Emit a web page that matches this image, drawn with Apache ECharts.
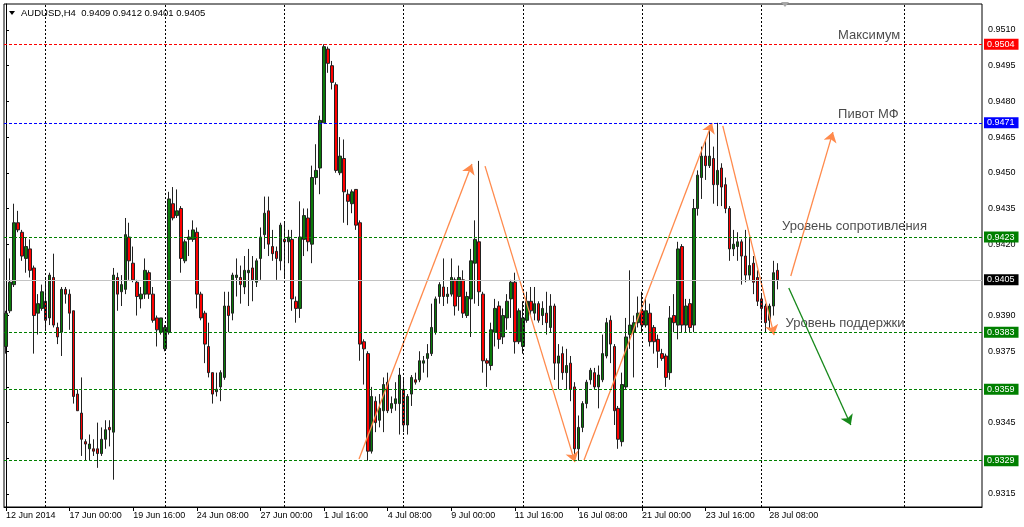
<!DOCTYPE html>
<html><head><meta charset="utf-8">
<script src="https://cdn.jsdelivr.net/npm/echarts@6/dist/echarts.min.js"></script>
<style>html,body{margin:0;padding:0;background:#fff}#c{width:1024px;height:527px}</style>
</head><body><div id="c"></div>
<script>
// ---- data (AUDUSD H4, 12 Jun 2014 08:00 .. 28 Jul 2014 16:00) ----
const symbolName = 'AUDUSD,H4';
const open = [
0.9377,0.9392,0.9403,0.9429,0.9425,0.9414,0.9418,0.9410,0.9391,0.9393,
0.9396,0.9389,0.9406,0.9385,0.9383,0.9401,0.9399,0.9392,0.9357,0.9349,
0.9337,0.9334,0.9334,0.9334,0.9332,0.9338,0.9343,0.9341,0.9406,0.9400,
0.9401,0.9423,0.9412,0.9404,0.9397,0.9399,0.9408,0.9399,0.9389,0.9383,
0.9376,0.9383,0.9437,0.9432,0.9435,0.9413,0.9422,0.9422,0.9425,0.9399,
0.9391,0.9377,0.9366,0.9358,0.9360,0.9364,0.9394,0.9391,0.9406,0.9406,
0.9402,0.9408,0.9410,0.9404,0.9414,0.9424,0.9434,0.9419,0.9417,0.9413,
0.9422,0.9421,0.9422,0.9396,0.9393,0.9422,0.9431,0.9420,0.9448,0.9452,
0.9471,0.9502,0.9495,0.9487,0.9450,0.9456,0.9441,0.9437,0.9443,0.9429,
0.9379,0.9374,0.9333,0.9354,0.9346,0.9350,0.9362,0.9351,0.9353,0.9353,
0.9359,0.9344,0.9357,0.9363,0.9363,0.9370,0.9372,0.9374,0.9383,0.9398,
0.9402,0.9398,0.9399,0.9405,0.9398,0.9405,0.9390,0.9397,0.9412,0.9421,
0.9399,0.9371,0.9369,0.9383,0.9394,0.9381,0.9389,0.9397,0.9404,0.9379,
0.9377,0.9388,0.9396,0.9391,0.9395,0.9390,0.9391,0.9385,0.9394,0.9370,
0.9374,0.9366,0.9370,0.9360,0.9334,0.9343,0.9353,0.9363,0.9366,0.9360,
0.9363,0.9373,0.9388,0.9377,0.9351,0.9337,0.9360,0.9382,0.9383,0.9387,
0.9392,0.9386,0.9391,0.9385,0.9380,0.9374,0.9373,0.9366,0.9390,0.9386,
0.9419,0.9386,0.9395,0.9386,0.9435,0.9448,0.9457,0.9453,0.9456,0.9445,
0.9452,0.9445,0.9435,0.9418,0.9419,0.9421,0.9415,0.9407,0.9412,0.9406,
0.9397,0.9394,0.9388,0.9394,0.9409];
const high = [
0.9392,0.9414,0.9437,0.9434,0.9426,0.9423,0.9422,0.9411,0.9399,0.9403,
0.9406,0.9408,0.9416,0.9387,0.9402,0.9402,0.9401,0.9392,0.9359,0.9364,
0.9338,0.9340,0.9338,0.9345,0.9343,0.9346,0.9346,0.9410,0.9408,0.9407,
0.9431,0.9429,0.9419,0.9405,0.9402,0.9414,0.9409,0.9402,0.9390,0.9389,
0.9386,0.9442,0.9444,0.9443,0.9436,0.9422,0.9426,0.9430,0.9427,0.9400,
0.9392,0.9387,0.9366,0.9366,0.9367,0.9400,0.9400,0.9408,0.9414,0.9411,
0.9415,0.9418,0.9415,0.9414,0.9427,0.9440,0.9440,0.9426,0.9419,0.9429,
0.9429,0.9426,0.9426,0.9398,0.9438,0.9435,0.9435,0.9453,0.9462,0.9474,
0.9504,0.9503,0.9497,0.9488,0.9465,0.9464,0.9443,0.9443,0.9443,0.9430,
0.9380,0.9375,0.9360,0.9356,0.9357,0.9364,0.9366,0.9356,0.9362,0.9368,
0.9364,0.9357,0.9365,0.9366,0.9375,0.9373,0.9378,0.9395,0.9398,0.9404,
0.9414,0.9402,0.9414,0.9406,0.9411,0.9409,0.9400,0.9418,0.9430,0.9455,
0.9400,0.9372,0.9387,0.9397,0.9396,0.9393,0.9399,0.9405,0.9408,0.9393,
0.9396,0.9400,0.9402,0.9402,0.9396,0.9396,0.9400,0.9399,0.9395,0.9378,
0.9377,0.9376,0.9373,0.9362,0.9348,0.9354,0.9363,0.9368,0.9368,0.9369,
0.9382,0.9389,0.9390,0.9378,0.9352,0.9366,0.9389,0.9409,0.9390,0.9398,
0.9400,0.9397,0.9395,0.9386,0.9382,0.9376,0.9374,0.9394,0.9399,0.9421,
0.9420,0.9397,0.9397,0.9439,0.9451,0.9461,0.9464,0.9468,0.9461,0.9471,
0.9454,0.9448,0.9436,0.9426,0.9425,0.9422,0.9426,0.9423,0.9415,0.9409,
0.9399,0.9395,0.9395,0.9413,0.9412];
const low = [
0.9374,0.9391,0.9402,0.9425,0.9413,0.9408,0.9406,0.9374,0.9382,0.9392,
0.9384,0.9386,0.9385,0.9378,0.9373,0.9395,0.9384,0.9353,0.9350,0.9331,
0.9329,0.9329,0.9331,0.9326,0.9331,0.9334,0.9335,0.9321,0.9392,0.9394,
0.9399,0.9405,0.9404,0.9390,0.9393,0.9397,0.9397,0.9387,0.9377,0.9382,
0.9375,0.9382,0.9430,0.9431,0.9408,0.9412,0.9415,0.9421,0.9393,0.9388,
0.9370,0.9364,0.9353,0.9356,0.9354,0.9363,0.9383,0.9388,0.9398,0.9395,
0.9399,0.9394,0.9396,0.9402,0.9405,0.9418,0.9415,0.9413,0.9405,0.9409,
0.9406,0.9412,0.9392,0.9387,0.9389,0.9415,0.9417,0.9412,0.9445,0.9441,
0.9471,0.9492,0.9485,0.9450,0.9449,0.9429,0.9428,0.9433,0.9426,0.9371,
0.9361,0.9329,0.9332,0.9341,0.9343,0.9341,0.9349,0.9349,0.9350,0.9340,
0.9341,0.9340,0.9352,0.9361,0.9362,0.9366,0.9364,0.9373,0.9382,0.9395,
0.9394,0.9395,0.9398,0.9390,0.9392,0.9389,0.9389,0.9381,0.9395,0.9394,
0.9366,0.9360,0.9367,0.9377,0.9376,0.9378,0.9384,0.9389,0.9374,0.9378,
0.9374,0.9387,0.9390,0.9388,0.9387,0.9386,0.9382,0.9383,0.9363,0.9359,
0.9363,0.9359,0.9354,0.9330,0.9329,0.9341,0.9351,0.9361,0.9359,0.9351,
0.9362,0.9372,0.9370,0.9344,0.9334,0.9335,0.9359,0.9376,0.9364,0.9385,
0.9383,0.9385,0.9377,0.9374,0.9368,0.9371,0.9360,0.9363,0.9383,0.9380,
0.9383,0.9383,0.9383,0.9383,0.9432,0.9439,0.9447,0.9452,0.9437,0.9436,
0.9436,0.9433,0.9413,0.9415,0.9413,0.9403,0.9404,0.9405,0.9399,0.9394,
0.9388,0.9383,0.9384,0.9390,0.9401];
const close = [
0.9391,0.9404,0.9429,0.9426,0.9415,0.9419,0.9409,0.9390,0.9395,0.9400,
0.9388,0.9407,0.9386,0.9381,0.9401,0.9399,0.9391,0.9356,0.9350,0.9338,
0.9336,0.9336,0.9333,0.9332,0.9338,0.9342,0.9342,0.9407,0.9399,0.9403,
0.9424,0.9413,0.9405,0.9398,0.9399,0.9409,0.9399,0.9388,0.9384,0.9389,
0.9385,0.9439,0.9431,0.9434,0.9414,0.9421,0.9423,0.9426,0.9399,0.9389,
0.9378,0.9366,0.9357,0.9359,0.9366,0.9394,0.9390,0.9407,0.9407,0.9403,
0.9409,0.9409,0.9405,0.9413,0.9423,0.9433,0.9420,0.9416,0.9414,0.9428,
0.9421,0.9423,0.9397,0.9393,0.9423,0.9432,0.9421,0.9448,0.9451,0.9472,
0.9503,0.9496,0.9488,0.9451,0.9457,0.9442,0.9438,0.9442,0.9428,0.9378,
0.9376,0.9333,0.9356,0.9345,0.9351,0.9361,0.9350,0.9353,0.9355,0.9365,
0.9344,0.9356,0.9364,0.9362,0.9371,0.9371,0.9374,0.9385,0.9397,0.9403,
0.9398,0.9399,0.9406,0.9394,0.9406,0.9391,0.9398,0.9413,0.9422,0.9400,
0.9371,0.9370,0.9384,0.9393,0.9380,0.9390,0.9396,0.9404,0.9379,0.9392,
0.9389,0.9396,0.9392,0.9395,0.9388,0.9393,0.9387,0.9394,0.9370,0.9373,
0.9366,0.9369,0.9359,0.9334,0.9343,0.9353,0.9362,0.9367,0.9360,0.9365,
0.9374,0.9387,0.9378,0.9350,0.9338,0.9361,0.9381,0.9386,0.9387,0.9391,
0.9386,0.9392,0.9379,0.9379,0.9375,0.9372,0.9364,0.9389,0.9387,0.9418,
0.9386,0.9394,0.9385,0.9435,0.9449,0.9457,0.9453,0.9457,0.9445,0.9451,
0.9444,0.9435,0.9418,0.9420,0.9421,0.9415,0.9407,0.9411,0.9404,0.9396,
0.9393,0.9387,0.9394,0.9408,0.9405];

// time axis
const totalSlots = 246;              // bars + empty right shift
const tickStep = 16;
const tickLabels = ['12 Jun 2014','17 Jun 00:00','19 Jun 16:00','24 Jun 08:00','27 Jun 00:00',
  '1 Jul 16:00','4 Jul 08:00','9 Jul 00:00','11 Jul 16:00','16 Jul 08:00','21 Jul 00:00',
  '23 Jul 16:00','28 Jul 08:00'];
const weekLines = [10, 40, 70, 100, 130, 160, 190, 226];

// price axis
const yMin = 0.930954, yMax = 0.952093;
const yTicks = [0.9315,0.9330,0.9345,0.9360,0.9375,0.9390,0.9405,0.9420,0.9435,0.9450,0.9465,0.9480,0.9495,0.9510];

// horizontal levels
const levels = [0.9504, 0.9471, 0.9423, 0.9383, 0.9359, 0.9329];
const levelColors = ['#ff0000', '#0000ff', '#008000', '#008000', '#008000', '#008000'];
const bidPrice = 0.9405;

// annotations: [bar position, price, text]
const notes = [
  [209.3, 0.95079, 'Максимум'],
  [209.3, 0.94747, 'Пивот МФ'],
  [195.2, 0.94276, 'Уровень сопротивления'],
  [196.1, 0.93869, 'Уровень поддержки']
];
// arrows: [bar from, price from, bar to, price to, color]
const arrows = [
  [88.8, 0.93297, 117.2, 0.94537, '#ff8a4c'],
  [120.5, 0.94528, 143.1, 0.93284, '#ff8a4c'],
  [145.4, 0.93293, 177.6, 0.94709, '#ff8a4c'],
  [180.3, 0.94697, 193.2, 0.93818, '#ff8a4c'],
  [197.4, 0.94066, 208.0, 0.94671, '#ff8a4c'],
  [196.9, 0.94016, 212.5, 0.93440, '#16881a']
];

// ---- build ----
const months = ['Jan','Feb','Mar','Apr','May','Jun','Jul','Aug','Sep','Oct','Nov','Dec'];
const categories = [];
let t = Date.UTC(2014, 5, 12, 8);
while (categories.length < totalSlots) {
  const d = new Date(t), wd = d.getUTCDay();
  if (wd !== 0 && wd !== 6) categories.push(d.getUTCDate() + ' ' + months[d.getUTCMonth()] + ' ' + String(d.getUTCHours()).padStart(2, '0') + ':00');
  t += 4 * 3600e3;
}
const candles = open.map((o, i) => [o, close[i], low[i], high[i]]);
const last = open.length - 1;
const titleText = symbolName + '  ' + [open[last], high[last], low[last], close[last]].map(v => v.toFixed(4)).join(' ');
const showTick = (idx) => idx % tickStep === 0 && idx <= tickStep * (tickLabels.length - 1);
const FONT = 'Liberation Sans';
const boxed = levels.concat([bidPrice]);
const yLabel = (v) => boxed.some(b => Math.abs(b - v) < 0.00015) ? '' : v.toFixed(4);

const boxLabel = (bg) => ({
  show: true, position: 'end', distance: 2, formatter: (p) => Number(p.value).toFixed(4),
  color: '#fff', backgroundColor: bg, fontSize: 9, fontFamily: FONT,
  lineHeight: 10, padding: [1, 4, 0, 3]
});

const markData = [];
weekLines.forEach(x => markData.push({ xAxis: x, lineStyle: { color: '#000', type: [2, 2], width: 1 }, label: { show: false } }));
markData.push({ yAxis: bidPrice, lineStyle: { color: '#c4c4c4', type: 'solid', width: 1 }, label: boxLabel('#000') });
levels.forEach((v, k) => markData.push({ yAxis: v, lineStyle: { color: levelColors[k], type: [3, 2], width: 1 }, label: boxLabel(levelColors[k]) }));

const chart = echarts.init(document.getElementById('c'), null, { renderer: 'canvas' });
chart.setOption({
  animation: false,
  backgroundColor: '#fff',
  textStyle: { fontFamily: FONT },
  grid: { left: 4, right: 42, top: 4, bottom: 20, show: true, borderColor: '#000', borderWidth: 1, backgroundColor: '#fff' },
  xAxis: [{
    type: 'category', data: categories, boundaryGap: true,
    axisLine: { show: true, lineStyle: { color: '#000', width: 1 } },
    axisTick: { show: true, interval: showTick, alignWithLabel: true, length: 4, lineStyle: { color: '#000' } },
    axisLabel: { interval: showTick, formatter: (v, i) => tickLabels[i / tickStep], align: 'left', margin: 4, fontSize: 9, color: '#000', fontFamily: FONT },
    splitLine: { show: false }
  }, {
    type: 'value', min: -0.5, max: totalSlots - 0.5, show: false
  }],
  yAxis: [{
    type: 'value', position: 'right', min: yMin, max: yMax, scale: true, z: 0,
    axisLine: { show: true, lineStyle: { color: '#000', width: 1 } },
    axisTick: { show: true, customValues: yTicks, length: 3, lineStyle: { color: '#000' } },
    axisLabel: { customValues: yTicks, formatter: yLabel, margin: 6, fontSize: 9, color: '#000', fontFamily: FONT },
    splitLine: { show: false }
  }],
  graphic: [
    { type: 'polygon', shape: { points: [[9, 11], [15, 11], [12, 15]] }, style: { fill: '#000' } },
    { type: 'text', left: 21, top: 8, style: { text: titleText, font: '9.5px "Liberation Sans"', fill: '#000' } },
    { type: 'polygon', shape: { points: [[781, 2], [789, 2], [785, 7]] }, style: { fill: '#a8a8a8' } }
  ],
  series: [{
    type: 'scatter', xAxisIndex: 1, yAxisIndex: 0, z: 1, symbolSize: 0, silent: true,
    data: notes.map(n => ({ value: [n[0], n[1]], label: { formatter: n[2] } })),
    label: { show: true, position: 'right', distance: 0, color: '#1a1a1a', fontSize: 13, fontFamily: FONT },
    markLine: { silent: true, symbol: 'none', animation: false, precision: 5, data: markData }
  }, {
    type: 'candlestick', xAxisIndex: 0, yAxisIndex: 0, z: 3, barWidth: 3, silent: true,
    data: candles,
    itemStyle: { color: '#0a7a0a', color0: '#ff0000', borderColor: '#222', borderColor0: '#222', borderWidth: 1 }
  }, {
    type: 'lines', coordinateSystem: 'cartesian2d', xAxisIndex: 1, yAxisIndex: 0, z: 4, silent: true,
    symbol: ['none', 'arrow'], symbolSize: 10,
    data: arrows.map(a => ({ coords: [[a[0], a[1]], [a[2], a[3]]], lineStyle: { color: a[4], width: 1.3, opacity: 1 } })),
    lineStyle: { width: 1.3, opacity: 1 }
  }]
});
</script>
</body></html>
